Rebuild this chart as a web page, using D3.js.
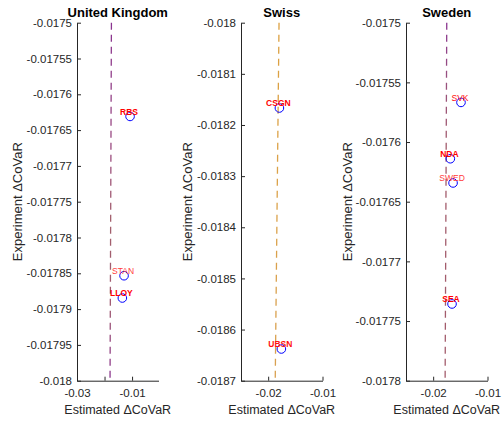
<!DOCTYPE html>
<html><head><meta charset="utf-8">
<script src="https://cdn.jsdelivr.net/npm/d3@7"></script>
<style>
body{margin:0;background:#fff;}
svg{display:block;font-family:"Liberation Sans",Arial,sans-serif;}
</style></head>
<body><svg id="c" width="502" height="423"></svg>
<script>
// ---- data ----
const countries = ["United Kingdom", "Swiss", "Sweden"];

const ukBanks = ["RBS", "STAN", "LLOY"];
const ukEstimated = [-0.01073, -0.01291, -0.01353];
const ukExperiment = [-0.0176309, -0.0178534, -0.0178845];

const swissBanks = ["CSGN", "UBSN"];
const swissEstimated = [-0.017934, -0.01757];
const swissExperiment = [-0.0181668, -0.018638];

const swedenBanks = ["SVK", "NDA", "SWED", "SEA"];
const swedenEstimated = [-0.01488, -0.01684, -0.01634, -0.01653];
const swedenExperiment = [-0.0175668, -0.017614, -0.0176343, -0.0177357];

const ukYTicks = [-0.0175, -0.01755, -0.0176, -0.01765, -0.0177, -0.01775, -0.0178, -0.01785, -0.0179, -0.01795, -0.018];
const ukYLabels = ["-0.0175", "-0.01755", "-0.0176", "-0.01765", "-0.0177", "-0.01775", "-0.0178", "-0.01785", "-0.0179", "-0.01795", "-0.018"];
const swissYTicks = [-0.018, -0.0181, -0.0182, -0.0183, -0.0184, -0.0185, -0.0186, -0.0187];
const swissYLabels = ["-0.018", "-0.0181", "-0.0182", "-0.0183", "-0.0184", "-0.0185", "-0.0186", "-0.0187"];
const swedenYTicks = [-0.0175, -0.01755, -0.0176, -0.01765, -0.0177, -0.01775, -0.0178];
const swedenYLabels = ["-0.0175", "-0.01755", "-0.0176", "-0.01765", "-0.0177", "-0.01775", "-0.0178"];

const ukXTicks = [-0.03, -0.02, -0.01];
const ukXLabels = ["-0.03", "", "-0.01"];
const swissXTicks = [-0.02, -0.01];
const swissXLabels = ["-0.02", "-0.01"];
const swedenXTicks = [-0.02, -0.01];
const swedenXLabels = ["-0.02", "-0.01"];

const ukXDomain = [-0.03, -0.0004];
const swissXDomain = [-0.025, -0.01];
const swedenXDomain = [-0.025, -0.01];
const ukYDomain = [-0.018, -0.0175];
const swissYDomain = [-0.0187, -0.018];
const swedenYDomain = [-0.0178, -0.0175];

// ---- styles / layout ----
const labelStyle = {
  RBS: {w: "bold", c: "#ff0000"}, STAN: {w: "normal", c: "#ff3c3c"}, LLOY: {w: "bold", c: "#ff0000"},
  CSGN: {w: "bold", c: "#ff0000"}, UBSN: {w: "bold", c: "#ff1010"},
  SVK: {w: "normal", c: "#ff0a0a"}, NDA: {w: "bold", c: "#ff0000"}, SWED: {w: "normal", c: "#ff3c3c"}, SEA: {w: "bold", c: "#ff0000"}
};
const lineStops = [
  [[0, "#8a3590"], [0.35, "#9a4a80"], [0.55, "#a3606c"], [0.8, "#a05a72"], [1, "#8a3590"]],
  [[0, "#dca040"], [0.5, "#dba24a"], [1, "#d8a050"]],
  [[0, "#8a3590"], [0.15, "#985080"], [0.35, "#a35c6c"], [1, "#a35c6c"]]
];

const panels = [
  {name: countries[0], banks: ukBanks, ex: ukEstimated, ey: ukExperiment, yt: ukYTicks, yl: ukYLabels, xt: ukXTicks, xl: ukXLabels, xd: ukXDomain, yd: ukYDomain, left: 77, ylab: 22},
  {name: countries[1], banks: swissBanks, ex: swissEstimated, ey: swissExperiment, yt: swissYTicks, yl: swissYLabels, xt: swissXTicks, xl: swissXLabels, xd: swissXDomain, yd: swissYDomain, left: 241, ylab: 192},
  {name: countries[2], banks: swedenBanks, ex: swedenEstimated, ey: swedenExperiment, yt: swedenYTicks, yl: swedenYLabels, xt: swedenXTicks, xl: swedenXLabels, xd: swedenXDomain, yd: swedenYDomain, left: 406, ylab: 352}
];

const PW = 81.5, PTOP = 22.7, PBOT = 380.7;
const svg = d3.select("#c");
const defs = svg.append("defs");
const axisCol = "#262626";

panels.forEach((p, i) => {
  const x = d3.scaleLinear().domain(p.xd).range([p.left, p.left + PW]);
  const y = d3.scaleLinear().domain(p.yd).range([PBOT, PTOP]);

  const g = defs.append("linearGradient").attr("id", "lg" + i)
    .attr("gradientUnits", "userSpaceOnUse")
    .attr("x1", 0).attr("x2", 0).attr("y1", PTOP).attr("y2", PBOT);
  lineStops[i].forEach(s => g.append("stop").attr("offset", s[0]).attr("stop-color", s[1]));

  // y = x reference line
  svg.append("line")
    .attr("x1", x(p.yd[1])).attr("y1", y(p.yd[1]))
    .attr("x2", x(p.yd[0])).attr("y2", y(p.yd[0]))
    .attr("stroke", `url(#lg${i})`).attr("stroke-width", 1.3)
    .attr("stroke-dasharray", "7,5");

  const ya = d3.axisLeft(y).tickValues(p.yt).tickFormat((d, k) => p.yl[k])
    .tickSizeInner(-4).tickSizeOuter(0).tickPadding(5);
  const yg = svg.append("g").attr("transform", `translate(${p.left},0)`).call(ya);
  const xa = d3.axisBottom(x).tickValues(p.xt).tickFormat((d, k) => p.xl[k])
    .tickSizeInner(-4).tickSizeOuter(0).tickPadding(8);
  const xg = svg.append("g").attr("transform", `translate(0,${PBOT})`).call(xa);
  [yg, xg].forEach(a => {
    a.attr("font-family", null).attr("font-size", null);
    a.select(".domain").attr("stroke", axisCol);
    a.selectAll(".tick line").attr("stroke", axisCol);
    a.selectAll(".tick text").attr("fill", axisCol).style("font-size", "11.5px");
  });

  p.banks.forEach((b, k) => {
    svg.append("circle").attr("cx", x(p.ex[k])).attr("cy", y(p.ey[k])).attr("r", 4.3)
      .attr("fill", "none").attr("stroke", "#0000ff").attr("stroke-width", 1);
    svg.append("text").attr("x", x(p.ex[k]) - 1).attr("y", y(p.ey[k]) - 1.8)
      .attr("text-anchor", "middle").style("font-size", "8.5px")
      .style("font-weight", labelStyle[b].w).attr("fill", labelStyle[b].c).text(b);
  });

  svg.append("text").attr("x", p.left + PW / 2).attr("y", 17).attr("text-anchor", "middle")
    .style("font-size", "13px").style("font-weight", "bold").attr("fill", "#000").text(p.name);
  svg.append("text").attr("x", p.left + PW / 2).attr("y", 414).attr("text-anchor", "middle")
    .style("font-size", "12.5px").attr("fill", axisCol).text("Estimated \u0394CoVaR");
  svg.append("text").attr("transform", `translate(${p.ylab},${(PTOP + PBOT) / 2}) rotate(-90)`)
    .attr("text-anchor", "middle").style("font-size", "13px").attr("fill", axisCol)
    .text("Experiment \u0394CoVaR");
});
</script></body></html>
